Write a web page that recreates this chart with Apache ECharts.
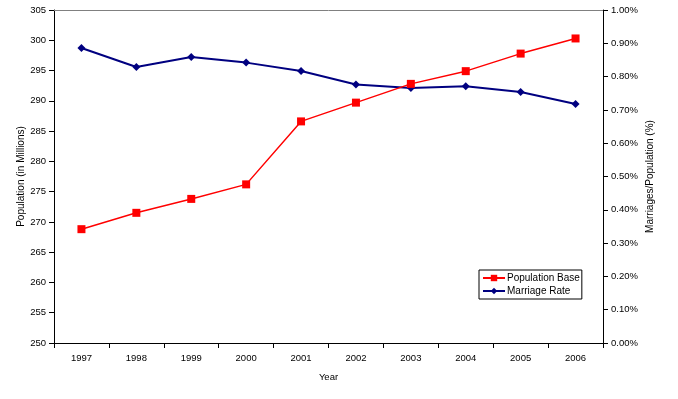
<!DOCTYPE html>
<html>
<head>
<meta charset="utf-8">
<script src="https://cdn.jsdelivr.net/npm/echarts@6/dist/echarts.min.js"></script>
<style>
html,body{margin:0;padding:0;background:#fff;}
#chart{width:678px;height:399px;}
</style>
</head>
<body>
<div id="chart"></div>
<script>
var years = ['1997','1998','1999','2000','2001','2002','2003','2004','2005','2006'];
var populationBase = [268.8, 271.5, 273.8, 276.2, 286.6, 289.7, 292.8, 294.9, 297.8, 300.3];
var marriageRate = [0.886, 0.829, 0.859, 0.842, 0.817, 0.776, 0.766, 0.771, 0.754, 0.718];

var FONT = 'Liberation Sans, Arial, sans-serif';
var chart = echarts.init(document.getElementById('chart'));
chart.setOption({
  animation: false,
  backgroundColor: '#ffffff',
  textStyle: {fontFamily: FONT},
  grid: {left: 54, right: 75, top: 10, bottom: 56, containLabel: false},
  legend: {
    orient: 'vertical',
    left: 479, top: 270,
    itemWidth: 22, itemHeight: 8,
    itemGap: 3,
    padding: [3, 2, 3, 3],
    borderColor: '#000', borderWidth: 1,
    textStyle: {fontFamily: FONT, fontSize: 10, color: '#000', padding: [0,0,0,-3]},
    data: ['Population Base', 'Marriage Rate']
  },
  xAxis: [{
    type: 'category',
    data: years,
    boundaryGap: true,
    name: 'Year',
    nameLocation: 'middle',
    nameGap: 29,
    nameTextStyle: {fontFamily: FONT, fontSize: 9.5, color: '#000'},
    axisLine: {lineStyle: {color: '#000', width: 1}},
    axisTick: {show: true, length: 5, lineStyle: {color: '#000'}},
    axisLabel: {fontFamily: FONT, fontSize: 9.5, color: '#000', margin: 10},
    splitLine: {show: false}
  }, {
    type: 'category',
    data: years,
    position: 'top',
    axisLine: {show: true, lineStyle: {color: '#808080', width: 1}},
    axisTick: {show: false},
    axisLabel: {show: false},
    splitLine: {show: false}
  }],
  yAxis: [{
    type: 'value',
    min: 250, max: 305, interval: 5,
    name: 'Population (in Millions)',
    nameLocation: 'middle',
    nameGap: 28,
    nameMoveOverlap: false,
    nameRotate: 90,
    nameTextStyle: {fontFamily: FONT, fontSize: 10, color: '#000'},
    axisLine: {show: true, lineStyle: {color: '#000', width: 1}},
    axisTick: {show: true, length: 5, lineStyle: {color: '#000'}},
    axisLabel: {fontFamily: FONT, fontSize: 9.5, color: '#000', margin: 8},
    splitLine: {show: false}
  }, {
    type: 'value',
    min: 0, max: 1, interval: 0.1,
    position: 'right',
    name: 'Marriages/Population (%)',
    nameLocation: 'middle',
    nameGap: 42,
    nameMoveOverlap: false,
    nameRotate: 90,
    nameTextStyle: {fontFamily: FONT, fontSize: 10, color: '#000'},
    axisLine: {show: true, lineStyle: {color: '#000', width: 1}},
    axisTick: {show: true, length: 5, lineStyle: {color: '#000'}},
    axisLabel: {fontFamily: FONT, fontSize: 9.5, color: '#000', margin: 8,
      formatter: function(v){ return v.toFixed(2) + '%'; }},
    splitLine: {show: false}
  }],
  series: [{
    name: 'Population Base',
    type: 'line',
    yAxisIndex: 0,
    data: populationBase,
    symbol: 'rect',
    symbolSize: 8,
    lineStyle: {color: '#ff0000', width: 1.5},
    itemStyle: {color: '#ff0000'},
    z: 3
  }, {
    name: 'Marriage Rate',
    type: 'line',
    yAxisIndex: 1,
    data: marriageRate,
    symbol: 'diamond',
    symbolSize: 8,
    lineStyle: {color: '#000080', width: 2},
    itemStyle: {color: '#000080'},
    z: 2
  }]
});
</script>
</body>
</html>
